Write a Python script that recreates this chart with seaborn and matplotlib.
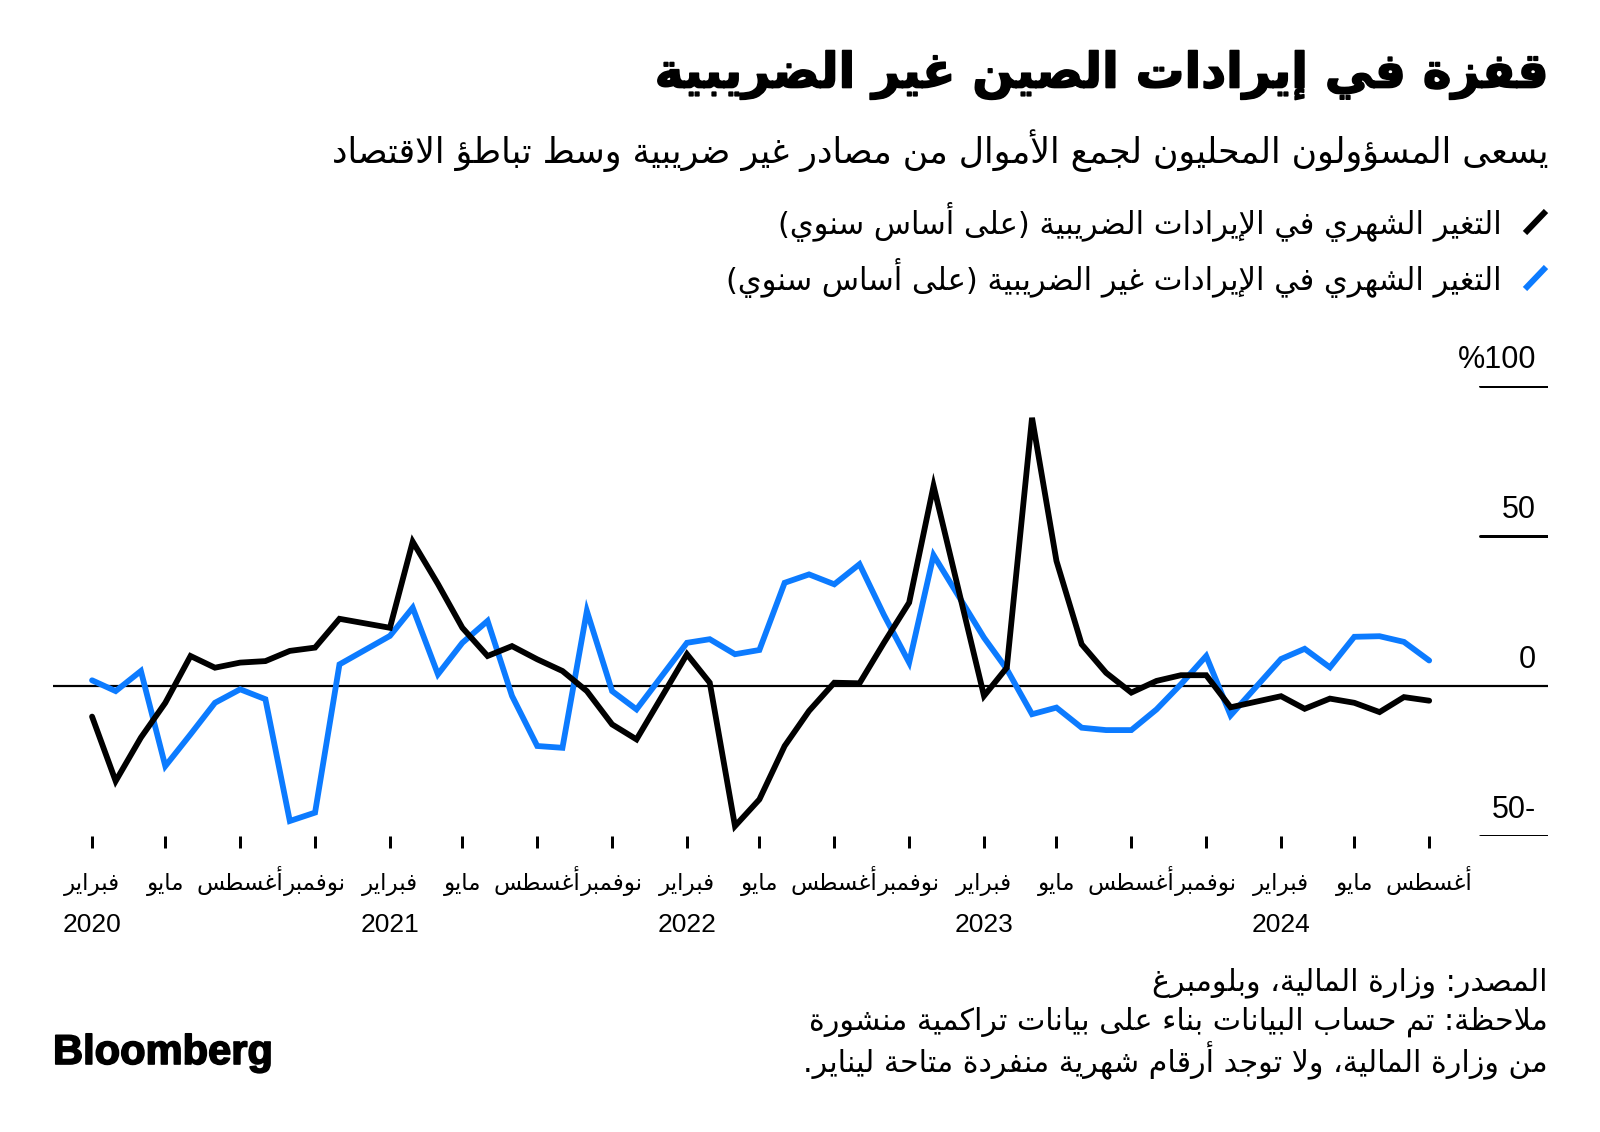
import matplotlib.dates as mdates
import matplotlib.patheffects as pe
import matplotlib.pyplot as plt
from matplotlib.lines import Line2D
import numpy as np
import pandas as pd
import seaborn as sns

# ---------------------------------------------------------------------------
# Data (monthly, y/y %, no standalone January figures)
# ---------------------------------------------------------------------------
months = (
    [f"2020-{m:02d}" for m in range(2, 13)]
    + [f"2021-{m:02d}" for m in range(2, 13)]
    + [f"2022-{m:02d}" for m in range(2, 13)]
    + [f"2023-{m:02d}" for m in range(2, 13)]
    + [f"2024-{m:02d}" for m in range(2, 9)]
)
tax_revenue = [
    -10.2, -31.7, -17.2, -5.6, 10.0, 6.1, 7.8, 8.3, 11.7, 12.8, 22.4,
    19.4, 48.1, 34.0, 19.4, 10.0, 13.3, 8.9, 5.0, -1.7, -12.8, -17.8,
    10.6, 1.1, -46.7, -37.8, -20.0, -8.3, 1.1, 0.9, 14.4, 27.8, 66.7,
    -3.3, 6.1, 89.4, 41.7, 13.9, 4.4, -2.2, 1.7, 3.6, 3.6, -7.1,
    -3.4, -7.6, -4.2, -5.6, -8.7, -3.7, -4.9,
]
non_tax_revenue = [
    1.9, -1.7, 5.0, -26.7, -16.1, -5.6, -1.1, -4.4, -45.0, -42.2, 7.2,
    16.7, 26.1, 3.9, 14.4, 21.7, -3.3, -20.0, -20.6, 25.0, -1.7, -7.8,
    14.4, 15.6, 10.6, 12.0, 34.4, 37.2, 33.9, 40.6, 23.7, 7.8, 43.6,
    16.1, 5.6, -9.4, -7.2, -13.9, -14.7, -14.7, -7.8, 0.6, 10.0, -9.8,
    9.0, 12.4, 6.2, 16.4, 16.6, 14.7, 8.5,
]
y_ticks = [100, 50, 0, -50]
y_tick_labels = ["%100", "50", "0", "50-"]
tick_months = ["فبراير", "مايو", "أغسطس", "نوفمبر"]

TITLE = "قفزة في إيرادات الصين غير الضريبية"
SUBTITLE = "يسعى المسؤولون المحليون لجمع الأموال من مصادر غير ضريبية وسط تباطؤ الاقتصاد"
LEGEND_TAX = "التغير الشهري في الإيرادات الضريبية (على أساس سنوي)"
LEGEND_NONTAX = "التغير الشهري في الإيرادات غير الضريبية (على أساس سنوي)"
FOOTER = [
    "المصدر: وزارة المالية، وبلومبرغ",
    "ملاحظة: تم حساب البيانات بناء على بيانات تراكمية منشورة",
    "من وزارة المالية، ولا توجد أرقام شهرية منفردة متاحة ليناير.",
]

BLUE = "#0C7BFF"
BLACK = "#000000"

# ---------------------------------------------------------------------------
# Minimal Arabic shaping (matplotlib has no complex text layout)
# ---------------------------------------------------------------------------
DUAL = {
    "ئ": 0xFE89, "ب": 0xFE8F, "ت": 0xFE95, "ث": 0xFE99, "ج": 0xFE9D,
    "ح": 0xFEA1, "خ": 0xFEA5, "س": 0xFEB1, "ش": 0xFEB5, "ص": 0xFEB9,
    "ض": 0xFEBD, "ط": 0xFEC1, "ظ": 0xFEC5, "ع": 0xFEC9, "غ": 0xFECD,
    "ف": 0xFED1, "ق": 0xFED5, "ك": 0xFED9, "ل": 0xFEDD, "م": 0xFEE1,
    "ن": 0xFEE5, "ه": 0xFEE9, "ي": 0xFEF1,
}
RIGHT = {
    "آ": 0xFE81, "أ": 0xFE83, "ؤ": 0xFE85, "إ": 0xFE87, "ا": 0xFE8D,
    "ة": 0xFE93, "د": 0xFEA9, "ذ": 0xFEAB, "ر": 0xFEAD, "ز": 0xFEAF,
    "و": 0xFEED, "ى": 0xFEEF,
}
NONE = {"ء": 0xFE80}
LAM_ALEF = {"آ": 0xFEF5, "أ": 0xFEF7, "إ": 0xFEF9, "ا": 0xFEFB}


def ar(text):
    units = []
    i = 0
    while i < len(text):
        c = text[i]
        nxt = text[i + 1] if i + 1 < len(text) else ""
        if c == "ل" and nxt in LAM_ALEF:
            units.append((LAM_ALEF[nxt], "R"))
            i += 2
            continue
        if c in DUAL:
            units.append((DUAL[c], "D"))
        elif c in RIGHT:
            units.append((RIGHT[c], "R"))
        elif c in NONE:
            units.append((NONE[c], "U"))
        else:
            units.append((c, None))
        i += 1

    out = []
    for k, (v, kind) in enumerate(units):
        if kind is None:
            out.append(v)
            continue
        prev = units[k - 1][1] if k > 0 else None
        nxt = units[k + 1][1] if k + 1 < len(units) else None
        join_prev = prev == "D"
        join_next = kind == "D" and nxt in ("D", "R")
        if kind == "U":
            idx = 0
        elif kind == "R":
            idx = 1 if join_prev else 0
        else:
            idx = {(False, False): 0, (True, False): 1,
                   (False, True): 2, (True, True): 3}[(join_prev, join_next)]
        out.append(chr(v + idx))
    visual = "".join(out)[::-1]
    return visual.translate(str.maketrans("()", ")("))


# ---------------------------------------------------------------------------
# Figure
# ---------------------------------------------------------------------------
sns.set_theme(style="white")
plt.rcParams["font.family"] = ["Liberation Sans", "DejaVu Sans"]
plt.rcParams["text.color"] = BLACK
AR_FONT = ["DejaVu Sans"]

W, H = 1600, 1132
fig = plt.figure(figsize=(W / 100, H / 100), dpi=100)
px = 72 / fig.dpi  # points per pixel

ax = fig.add_axes([53 / W, 1 - 836 / H, 1495 / W, 450 / H])

dates = pd.to_datetime(months)
df = pd.DataFrame({
    "date": np.concatenate([dates, dates]),
    "value": non_tax_revenue + tax_revenue,
    "series": ["non_tax"] * len(dates) + ["tax"] * len(dates),
})
sns.lineplot(
    data=df, x="date", y="value", hue="series",
    hue_order=["non_tax", "tax"], palette={"non_tax": BLUE, "tax": BLACK},
    linewidth=5.8 * px, legend=False, ax=ax,
)
for line in ax.lines:
    line.set_solid_joinstyle("miter")
    line.set_clip_on(False)

ax.set_ylim(-50, 100)
first, last = pd.Timestamp("2020-02-01"), pd.Timestamp("2024-08-01")
ax.set_xlim(first - pd.Timedelta(days=48), last + pd.Timedelta(days=146))

# zero line + short gridlines at right
ax.axhline(0, color=BLACK, lw=2.2 * px, zorder=1)
for yv, lab in zip(y_ticks, y_tick_labels):
    if yv != 0:
        ax.axhline(yv, xmin=0.9545, xmax=1.0, color=BLACK, lw=3 * px)
    ax.annotate(lab, xy=(1, yv), xycoords=ax.get_yaxis_transform(),
                xytext=(-12 * px, 18 * px), textcoords="offset points",
                ha="right", va="baseline", fontsize=22, color=BLACK)

# x ticks: marks from the axis, labels placed on fixed baselines
tick_dates = pd.date_range(first, last, freq="3MS")
ax.set_xticks(tick_dates)
ax.set_xticklabels([])
ax.tick_params(axis="x", length=12 * px, width=3 * px, color=BLACK,
               bottom=True)
xform = ax.get_xaxis_transform()
for d in tick_dates:
    xd = mdates.date2num(d)
    ax.annotate(ar(tick_months[(d.month - 2) // 3]), xy=(xd, 0),
                xycoords=xform, xytext=(0, -54 * px),
                textcoords="offset points", ha="center", va="baseline",
                fontsize=16.5, family=AR_FONT, color=BLACK)
    if d.month == 2:
        ax.annotate(str(d.year), xy=(xd, 0), xycoords=xform,
                    xytext=(0, -96 * px), textcoords="offset points",
                    ha="center", va="baseline", fontsize=19, color=BLACK)
ax.set_yticks([])
ax.set_xlabel("")
ax.set_ylabel("")
sns.despine(ax=ax, left=True, bottom=True)

# ---------------------------------------------------------------------------
# Header, legend, footer
# ---------------------------------------------------------------------------
RX = 1548 / W
heavy = [pe.withStroke(linewidth=1.2, foreground=BLACK)]
fig.text(RX, 1 - 75 / H, ar(TITLE), ha="right", va="center",
         fontsize=35, fontweight="bold", family=AR_FONT, path_effects=heavy)
fig.text(RX, 1 - 151 / H, ar(SUBTITLE), ha="right", va="center",
         fontsize=25, family=AR_FONT)

for yc, txt, col in [(222, LEGEND_TAX, BLACK), (278, LEGEND_NONTAX, BLUE)]:
    fig.text(1502 / W, 1 - yc / H, ar(txt), ha="right", va="center",
             fontsize=22, family=AR_FONT)
    fig.add_artist(Line2D([1525 / W, 1546 / W],
                          [1 - (yc + 11) / H, 1 - (yc - 11) / H],
                          transform=fig.transFigure, color=col,
                          lw=6 * px, solid_capstyle="butt"))

for i, line in enumerate(FOOTER):
    fig.text(RX, 1 - (983 + 39 * i) / H, ar(line), ha="right", va="center",
             fontsize=21.7, family=AR_FONT)

fig.text(53 / W, 1 - 1053 / H, "Bloomberg", ha="left", va="center",
         fontsize=30, fontweight="bold", family=["Liberation Sans"],
         path_effects=heavy)

fig.savefig("out.png", dpi=100)
